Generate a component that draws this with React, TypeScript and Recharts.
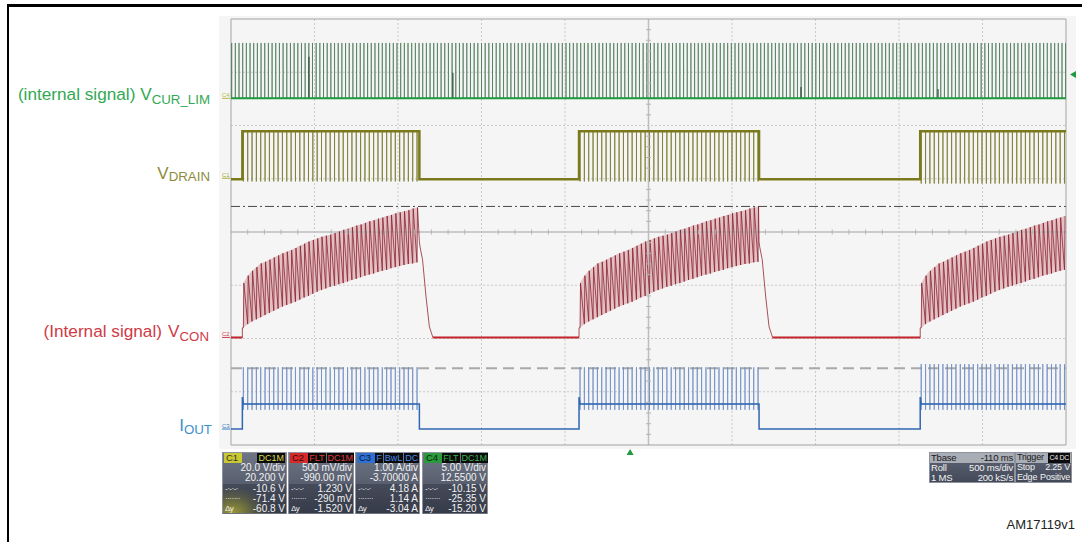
import React from "react";
import { ComposedChart, Line, Area, XAxis, YAxis, ReferenceLine, ReferenceDot, Scatter } from "recharts";

const FONT = '"Liberation Sans", Arial, Helvetica, sans-serif';

// screen: 10 div x 500 ms/div (roll), 8 vertical divisions
const screenMs = 5000;
const gridTimes = [500, 1000, 1500, 2000, 3000, 3500, 4000, 4500];
const gridDivs = [1, 2, 3, 5, 6, 7];
const triggerTime = 2390; // Tbase -110 ms from centre
const triggerLevel = 2.25; // V, on C4

// channel setup from the readout boxes (c1, c2, c3, c4)
const perDiv = [20, 0.5, 1, 5];
const offsets = [20.2, -0.99, -3.7, 12.55];
const cursorA = -10.6; // C1 dash-dot cursor
const cursorB = -71.4; // C1 dashed cursor

// burst windows (ms) and switching step seen inside them
const burstOn = [68, 2084, 4127];
const burstOff = [1128, 3162, 5000];
const pulseStep = 26;

// VCUR_LIM (C4, V)
const curLimStep = 22;
const curLimPeak = 5.2;
const curLimShortT = [467, 1329, 3413, 4234];
const curLimShortV = [3.9, 2.4, 1.06, 0.87];

// VDRAIN (C1, V)
const drainHigh = 17.6;
const drainLow = -0.4;
const drainDip = [-1.2, -1.2, -2.0];

// VCON (C2, V) tooth peaks and valleys through a burst
const vconHigh = [
  0.51, 0.58, 0.625, 0.66, 0.695, 0.71, 0.73, 0.75, 0.77, 0.79, 0.805, 0.82, 0.84, 0.86,
  0.88, 0.9, 0.915, 0.93, 0.945, 0.955, 0.965, 0.98, 0.995, 1.01, 1.02, 1.035, 1.05, 1.06,
  1.075, 1.09, 1.1, 1.115, 1.125, 1.14, 1.15, 1.165, 1.175, 1.185, 1.195, 1.21, 1.22, 1.23,
];
const vconLow = [
  0.09, 0.125, 0.15, 0.17, 0.19, 0.21, 0.23, 0.25, 0.27, 0.29, 0.305, 0.32, 0.335, 0.355,
  0.375, 0.39, 0.41, 0.43, 0.445, 0.46, 0.475, 0.485, 0.5, 0.51, 0.525, 0.54, 0.55, 0.565,
  0.58, 0.59, 0.6, 0.615, 0.625, 0.635, 0.65, 0.66, 0.67, 0.68, 0.69, 0.695, 0.705, 0.71,
];
const vconStart = 0.09;
const decayT = [0, 4, 19, 40, 60, 81];
const decayV = [0.9, 0.85, 0.73, 0.38, 0.1, 0];

// IOUT (C3, A)
const ioutBase = 0.47;
const ioutStart = 0.6;
const ioutPeak = [1.16, 1.16, 1.22];
const ioutDip = 0.36;

type Pt = { t: number; v: number | null };
type Band = { t: number; r: [number, number] | null };

const pulses = (b: number) => {
  const out: number[] = [];
  for (let t = burstOn[b] + 6; t < burstOff[b] - 2; t += pulseStep) out.push(t);
  return out;
};

// C4
const curLimSpikes: Pt[] = [];
for (let t = 4; t < screenMs; t += curLimStep) curLimSpikes.push({ t, v: 0 }, { t, v: curLimPeak }, { t, v: 0 });
const curLimShort: Pt[] = curLimShortT.flatMap((t, i) => [{ t, v: null }, { t, v: 0 }, { t, v: curLimShortV[i] }]);
const curLimBase: Pt[] = [{ t: 0, v: 0 }, { t: screenMs, v: 0 }];

// C1
const drainEdge: Pt[] = [{ t: 0, v: drainLow }];
const drainDips: Pt[] = [];
burstOn.forEach((on, b) => {
  const off = burstOff[b];
  drainEdge.push({ t: on, v: drainLow }, { t: on, v: drainHigh }, { t: off, v: drainHigh });
  if (off < screenMs) drainEdge.push({ t: off, v: drainLow });
  pulses(b).forEach((t) => drainDips.push({ t, v: drainHigh }, { t, v: drainDip[b] }, { t, v: drainHigh }));
  drainDips.push({ t: off, v: null });
});
drainEdge.push({ t: screenMs, v: burstOff[2] >= screenMs ? drainHigh : drainLow });

// C2
const vcon: Pt[] = [{ t: 0, v: 0 }];
const vconRest: Pt[] = [{ t: 0, v: 0 }];
const vconBand: Band[] = [];
burstOn.forEach((on, b) => {
  const off = burstOff[b];
  vcon.push({ t: on, v: 0 }, { t: on, v: vconStart });
  vconRest.push({ t: on, v: 0 }, { t: on + 1, v: null });
  pulses(b).forEach((t, k) => {
    vcon.push({ t, v: vconLow[k] }, { t: t + 3, v: vconHigh[k] });
    vconBand.push({ t, r: [vconLow[k], vconHigh[k]] });
  });
  vconBand.push({ t: off, r: null });
  if (off < screenMs) {
    decayT.forEach((d, i) => vcon.push({ t: off + d, v: decayV[i] }));
    vconRest.push({ t: off + decayT[decayT.length - 1], v: 0 });
  }
});

// C3
const ioutEdge: Pt[] = [{ t: 0, v: 0 }];
const ioutSpikes: Pt[] = [];
burstOn.forEach((on, b) => {
  const off = burstOff[b];
  ioutEdge.push({ t: on, v: 0 }, { t: on, v: ioutStart }, { t: on + 6, v: ioutBase }, { t: off, v: ioutBase });
  if (off < screenMs) ioutEdge.push({ t: off, v: 0 });
  pulses(b).forEach((t) =>
    ioutSpikes.push({ t, v: ioutBase }, { t, v: ioutPeak[b] }, { t, v: ioutDip }, { t, v: ioutBase })
  );
  ioutSpikes.push({ t: off, v: null });
});
ioutEdge.push({ t: screenMs, v: ioutBase });

// minor ticks on the centre cross
const minorT = Array.from({ length: 49 }, (_, i) => (i + 1) * 100).filter((t) => t % 500 !== 0);
const minorD = Array.from({ length: 39 }, (_, i) => +((i + 1) * 0.2).toFixed(1)).filter((d) => d % 1 !== 0);

const dom = (i: number): [number, number] => [-4 * perDiv[i] - offsets[i], 4 * perDiv[i] - offsets[i]];

const hTick = (p: any) => <line x1={p.cx} x2={p.cx} y1={p.cy - 2.5} y2={p.cy + 2.5} stroke="#b4b4b4" strokeWidth={1} />;
const vTick = (p: any) => <line x1={p.cx - 2.5} x2={p.cx + 2.5} y1={p.cy} y2={p.cy} stroke="#b4b4b4" strokeWidth={1} />;

const chanMark = (txt: string, color: string) => (p: any) => (
  <g>
    <text x={p.cx - 9} y={p.cy - 1} fontSize={6} fill={color} fontFamily={FONT}>{txt}</text>
    <line x1={p.cx - 9} x2={p.cx - 1} y1={p.cy} y2={p.cy} stroke={color} strokeWidth={1} />
  </g>
);

type Row = [string, string];
function Readout(p: {
  left: number; width: number; tag: string; tagBg: string; tagFg: string;
  flags: string[]; flagFg: string; rows: Row[]; glow?: boolean;
}) {
  return (
    <div
      style={{
        position: "absolute", left: p.left, top: 452, width: p.width, height: 62, boxSizing: "border-box",
        border: "1px solid #8d929c",
        background: p.glow
          ? "radial-gradient(ellipse 70% 55% at 15% 100%, rgba(214,210,60,0.95), rgba(160,160,60,0.35) 55%, rgba(0,0,0,0) 80%), linear-gradient(#6e7585, #434959)"
          : "linear-gradient(#6e7585, #434959)",
        fontFamily: FONT, fontSize: 10, color: "#f2f2f2", lineHeight: "10.2px",
      }}
    >
      <div style={{ display: "flex", justifyContent: "space-between", height: 10, padding: "0 1px" }}>
        <span style={{ background: p.tagBg, color: p.tagFg, padding: "0 4px 0 2px", fontSize: 9.5, lineHeight: "10px" }}>{p.tag}</span>
        <span style={{ display: "flex", gap: 1 }}>
          {p.flags.map((f, i) => (
            <span key={i} style={{ background: "#0c0c0c", color: p.flagFg, padding: "0 1px", fontSize: 9, lineHeight: "10px" }}>{f}</span>
          ))}
        </span>
      </div>
      {p.rows.map((r, i) => (
        <div
          key={i}
          style={{
            display: "flex", justifyContent: "space-between", padding: "0 1px 0 2px", height: 10.3,
            background: i >= 2 ? "rgba(20,24,36,0.28)" : "transparent",
          }}
        >
          <span style={{ fontSize: 8, letterSpacing: -0.5 }}>{r[0]}</span>
          <span>{r[1]}</span>
        </div>
      ))}
    </div>
  );
}

function StatusBox(p: { left: number; width: number; head: Row; rows: Row[]; badge?: string; size?: number }) {
  return (
    <div
      style={{
        position: "absolute", left: p.left, top: 452, width: p.width, height: 31, boxSizing: "border-box",
        border: "1px solid #8d929c", background: "linear-gradient(#5f6676, #434959)",
        fontFamily: FONT, fontSize: p.size ?? 9.5, color: "#f2f2f2", lineHeight: "9.7px", letterSpacing: -0.2,
      }}
    >
      <div style={{ display: "flex", justifyContent: "space-between", background: "#a9adb6", color: "#1a1a1a", height: 10, padding: "0 1px" }}>
        <span>{p.head[0]}</span>
        {p.badge ? (
          <span style={{ background: "#0c0c0c", color: "#e8e8e8", fontSize: 7, padding: "0 1px", letterSpacing: -0.3 }}>{p.badge}</span>
        ) : (
          <span>{p.head[1]}</span>
        )}
      </div>
      {p.rows.map((r, i) => (
        <div key={i} style={{ display: "flex", justifyContent: "space-between", padding: "0 1px", height: 10, gap: 2 }}>
          <span>{r[0]}</span>
          <span>{r[1]}</span>
        </div>
      ))}
    </div>
  );
}

export default function App() {
  const tr = (data: Pt[], axis: string, color: string, width = 1, opacity = 1) => (
    <Line
      data={data}
      dataKey="v"
      yAxisId={axis}
      type="linear"
      stroke={color}
      strokeWidth={width}
      strokeOpacity={opacity}
      dot={false}
      activeDot={false}
      isAnimationActive={false}
      connectNulls={false}
    />
  );

  return (
    <div style={{ position: "absolute", left: 0, top: 0, width: 1082, height: 542, background: "#fff", overflow: "hidden" }}>
      <div style={{ position: "absolute", left: 7, top: 4, width: 1075, height: 538, borderTop: "3px solid #000", borderLeft: "2px solid #000" }} />
      <div style={{ position: "absolute", left: 219, top: 16, width: 857, height: 433, background: "#f5f5f5" }} />

      <div style={{ position: "absolute", left: 0, top: 0 }}>
        <ComposedChart width={1082} height={542} margin={{ top: 19, right: 16, bottom: 97, left: 231 }}>
          <XAxis dataKey="t" type="number" domain={[0, screenMs]} allowDataOverflow hide />
          <YAxis yAxisId="grid" dataKey="d" type="number" domain={[0, 8]} allowDataOverflow hide />
          <YAxis yAxisId="c1" type="number" domain={dom(0)} allowDataOverflow hide />
          <YAxis yAxisId="c2" type="number" domain={dom(1)} allowDataOverflow hide />
          <YAxis yAxisId="c3" type="number" domain={dom(2)} allowDataOverflow hide />
          <YAxis yAxisId="c4" type="number" domain={dom(3)} allowDataOverflow hide />

          {gridTimes.map((t) => (
            <ReferenceLine key={"gt" + t} x={t} yAxisId="grid" stroke="#c9c9c9" strokeDasharray="2 2" />
          ))}
          {gridDivs.map((d) => (
            <ReferenceLine key={"gd" + d} y={d} yAxisId="grid" stroke="#c9c9c9" strokeDasharray="2 2" />
          ))}
          <ReferenceLine x={screenMs / 2} yAxisId="grid" stroke="#bdbdbd" strokeWidth={1.5} />
          <ReferenceLine y={4} yAxisId="grid" stroke="#bdbdbd" strokeWidth={1.5} />
          <ReferenceLine x={0} yAxisId="grid" stroke="#a3a3a3" />
          <ReferenceLine x={screenMs} yAxisId="grid" stroke="#a3a3a3" />
          <ReferenceLine y={0} yAxisId="grid" stroke="#a3a3a3" />
          <ReferenceLine y={8} yAxisId="grid" stroke="#a3a3a3" />
          <Scatter data={minorT.map((t) => ({ t, d: 4 }))} yAxisId="grid" shape={hTick} isAnimationActive={false} />
          <Scatter data={minorD.map((d) => ({ t: screenMs / 2, d }))} yAxisId="grid" shape={vTick} isAnimationActive={false} />

          <ReferenceLine y={cursorA} yAxisId="c1" stroke="#4a4a4a" strokeDasharray="9 3 2 3" />
          <ReferenceLine y={cursorB} yAxisId="c1" stroke="#a9a9a9" strokeWidth={2} strokeDasharray="11 6" />

          {tr(curLimSpikes, "c4", "#4e7c5a", 1, 0.75)}
          {tr(curLimShort, "c4", "#1e3d26", 1)}
          {tr(curLimBase, "c4", "#1f9a3e", 2)}

          {tr(drainDips, "c1", "#7f7f36", 1, 0.85)}
          {tr(drainEdge, "c1", "#7a7a1c", 2.5)}

          <Area
            data={vconBand}
            dataKey="r"
            yAxisId="c2"
            type="linear"
            stroke="none"
            fill="#cf959b"
            fillOpacity={0.55}
            connectNulls={false}
            isAnimationActive={false}
            activeDot={false}
          />
          {tr(vcon, "c2", "#8a1a28", 1, 0.75)}
          {tr(vconRest, "c2", "#c4262e", 2)}

          {tr(ioutSpikes, "c3", "#6f8fc4", 1, 0.8)}
          {tr(ioutEdge, "c3", "#2f67b2", 1.5)}

          <ReferenceDot x={0} y={0} yAxisId="c4" r={0} ifOverflow="visible" shape={chanMark("C4", "#b9b94a")} />
          <ReferenceDot x={0} y={0} yAxisId="c1" r={0} ifOverflow="visible" shape={chanMark("C1", "#a9a93a")} />
          <ReferenceDot x={0} y={0} yAxisId="c2" r={0} ifOverflow="visible" shape={chanMark("C2", "#d0404a")} />
          <ReferenceDot x={0} y={0} yAxisId="c3" r={0} ifOverflow="visible" shape={chanMark("C3", "#3f7fc8")} />
          <ReferenceDot
            x={screenMs}
            y={triggerLevel}
            yAxisId="c4"
            ifOverflow="visible"
            shape={(p: any) => <polygon points={`${p.cx + 4},${p.cy} ${p.cx + 10},${p.cy - 3.5} ${p.cx + 10},${p.cy + 3.5}`} fill="#1f9a3e" />}
          />
          <ReferenceDot
            x={triggerTime}
            y={0}
            yAxisId="grid"
            ifOverflow="visible"
            shape={(p: any) => <polygon points={`${p.cx},${p.cy + 4} ${p.cx - 3.5},${p.cy + 10} ${p.cx + 3.5},${p.cy + 10}`} fill="#1f9a3e" />}
          />
        </ComposedChart>
      </div>

      <svg width={1082} height={542} style={{ position: "absolute", left: 0, top: 0, pointerEvents: "none" }}>
        <g fontFamily={FONT}>
          <text x={210} y={100} textAnchor="end" fontSize={17.2} fill="#33a853">
            (internal signal) V<tspan fontSize={13.3} dy={3.5}>CUR_LIM</tspan>
          </text>
          <text x={210} y={179} textAnchor="end" fontSize={17} fill="#8c8c3c">
            V<tspan fontSize={13.3} dy={2}>DRAIN</tspan>
          </text>
          <text x={209} y={337} textAnchor="end" fontSize={17.2} fill="#cf3a45">
            (Internal signal)<tspan dx={6}>V</tspan><tspan fontSize={13.3} dy={3.5}>CON</tspan>
          </text>
          <text x={212} y={431} textAnchor="end" fontSize={17} fill="#3b8fcb">
            I<tspan fontSize={13.3} dy={2.5}>OUT</tspan>
          </text>
          <text x={1075} y={529} textAnchor="end" fontSize={13} fill="#222">AM17119v1</text>
        </g>
      </svg>

      <Readout left={222} width={65} tag="C1" tagBg="#c9c832" tagFg="#333" flags={["DC1M"]} flagFg="#d9d94a" glow
        rows={[["", "20.0 V/div"], ["", "20.200 V"], ["-·-·-·", "-10.6 V"], ["·······", "-71.4 V"], ["Δy", "-60.8 V"]]} />
      <Readout left={288} width={66} tag="C2" tagBg="#d62a2a" tagFg="#3a0a0a" flags={["FLT", "DC1M"]} flagFg="#e03a3a"
        rows={[["", "500 mV/div"], ["", "-990.00 mV"], ["-·-·-·", "1.230 V"], ["·······", "-290 mV"], ["Δy", "-1.520 V"]]} />
      <Readout left={355} width={65} tag="C3" tagBg="#2d6fd2" tagFg="#0a1a3a" flags={["F", "BwL", "DC"]} flagFg="#4a8ae8"
        rows={[["", "1.00 A/div"], ["", "-3.70000 A"], ["-·-·-·", "4.18 A"], ["·······", "1.14 A"], ["Δy", "-3.04 A"]]} />
      <Readout left={422} width={66} tag="C4" tagBg="#2b9a3b" tagFg="#0a2a10" flags={["FLT", "DC1M"]} flagFg="#3ab04a"
        rows={[["", "5.00 V/div"], ["", "12.5500 V"], ["-·-·-·", "-10.15 V"], ["·······", "-25.35 V"], ["Δy", "-15.20 V"]]} />

      <StatusBox left={929} width={86} head={["Tbase", "-110 ms"]} rows={[["Roll", "500 ms/div"], ["1 MS", "200 kS/s"]]} />
      <StatusBox left={1015} width={57} size={9} head={["Trigger", ""]} badge="C4 DC" rows={[["Stop", "2.25 V"], ["Edge", "Positive"]]} />
    </div>
  );
}
